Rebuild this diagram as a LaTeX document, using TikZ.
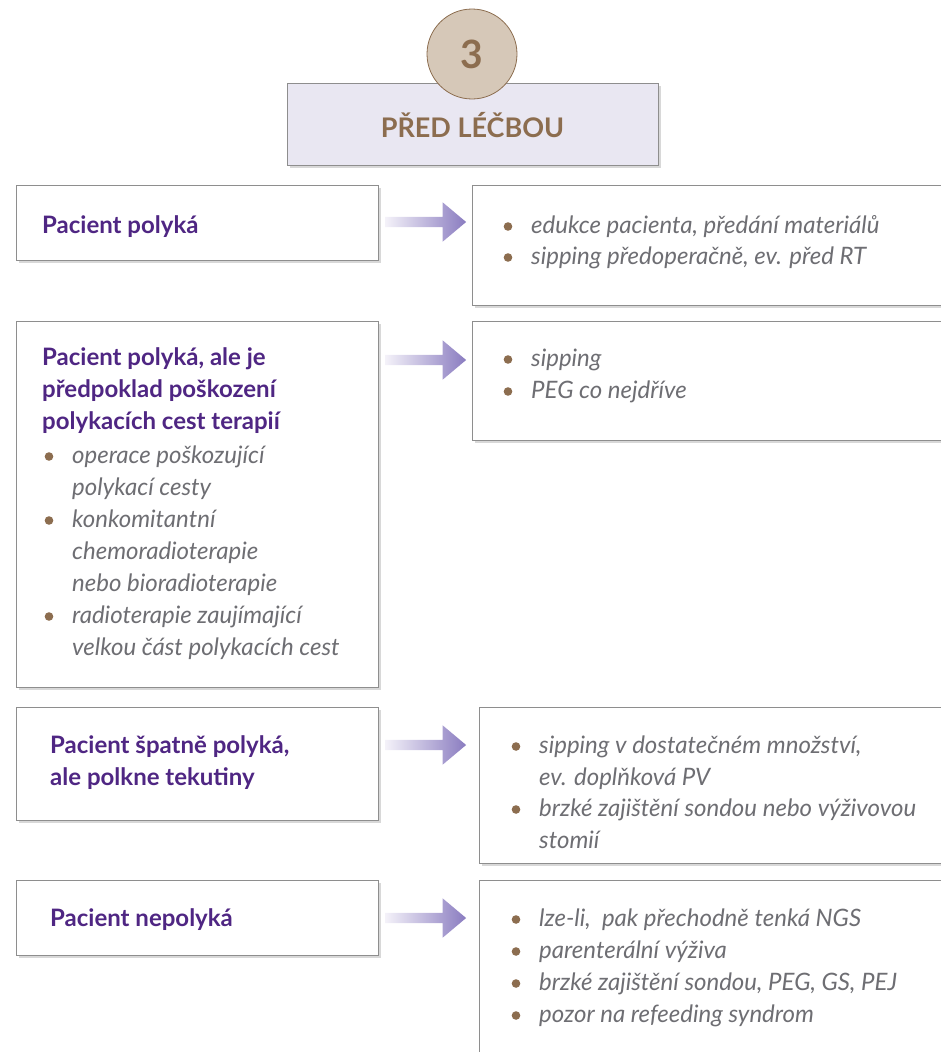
\documentclass[tikz,border=0pt]{standalone}
\usepackage{fontspec}
\setmainfont{Lato}
\usetikzlibrary{shapes.arrows, shadows}
\definecolor{plum}{HTML}{4F2683}
\definecolor{txgray}{HTML}{6E6E73}
\definecolor{bronze}{HTML}{8C6D4F}
\definecolor{sand}{HTML}{D6C8B8}
\definecolor{lilac}{HTML}{E9E7F2}
\definecolor{frame}{HTML}{8E8E8E}
\definecolor{arrowpale}{HTML}{F4F2F9}
\definecolor{arrowviolet}{HTML}{8A7CC0}

\begin{document}
\begin{tikzpicture}[
  x=1pt, y=-1pt,
  box/.style={rectangle, draw=frame, fill=white, line width=0.8pt, anchor=north west,
    inner sep=0pt, drop shadow={shadow xshift=3pt, shadow yshift=-3pt, opacity=0.22, fill=black!70}},
  head/.style={plum, font=\fontsize{24}{28}\selectfont\bfseries, anchor=base west, inner sep=0pt},
  item/.style={txgray, font=\fontsize{24}{28}\selectfont\itshape, anchor=base west, inner sep=0pt},
  flow/.style={single arrow, draw=none, minimum height=81pt, minimum width=39pt, inner sep=5pt,
    single arrow head extend=14.5pt, single arrow tip angle=80,
    left color=arrowpale, right color=arrowviolet},
]

% ----------------------------------------------------------
% Page frame
% ----------------------------------------------------------
\useasboundingbox (0,0) rectangle (941,1052);
\clip (0,0) rectangle (941,1052);

% ----------------------------------------------------------
% Title
% ----------------------------------------------------------
\node[box, fill=lilac, minimum width=371pt, minimum height=82pt] (title) at (287,83) {};
\node[bronze, font=\fontsize{27}{30}\selectfont\bfseries, anchor=base, inner sep=0pt]
  (titletext) at (472.5,137) {PŘED LÉČBOU};
\node[circle, draw=bronze, fill=sand, line width=0.8pt, minimum size=90pt, inner sep=0pt,
  text=bronze, font=\fontsize{39}{41}\selectfont\bfseries] (num) at (472,54) {3};

% ----------------------------------------------------------
% Left column: patient state
% ----------------------------------------------------------
\node[box, minimum width=362pt, minimum height=75pt]  (p1) at (16,185) {};
\node[box, minimum width=362pt, minimum height=366pt] (p2) at (16,321) {};
\node[box, minimum width=362pt, minimum height=113pt] (p3) at (16,707) {};
\node[box, minimum width=362pt, minimum height=75pt]  (p4) at (16,880) {};

% ----------------------------------------------------------
% Right column: measures
% ----------------------------------------------------------
\node[box, minimum width=500pt, minimum height=120pt] (r1) at (472,185) {};
\node[box, minimum width=500pt, minimum height=119pt] (r2) at (472,321) {};
\node[box, minimum width=500pt, minimum height=156pt] (r3) at (479,707) {};
\node[box, minimum width=500pt, minimum height=200pt] (r4) at (479,880) {};

% ----------------------------------------------------------
% Arrows
% ----------------------------------------------------------
\node[flow] (a1) at (422.5,222) {};
\node[flow] (a2) at (422.5,360) {};
\node[flow] (a3) at (422.5,745) {};
\node[flow] (a4) at (422.5,918) {};

% ----------------------------------------------------------
% Headings
% ----------------------------------------------------------
\node[head] (h1) at (42,233) {Pacient polyká};
\foreach \y/\t [count=\i] in {365/{Pacient polyká, ale je},
                              397/{předpoklad poškození},
                              429/{polykacích cest terapií}}{
  \node[head] (h2-\i) at (42,\y) {\t};
}
\foreach \y/\t [count=\i] in {753/{Pacient špatně polyká,},
                              785/{ale polkne tekutiny}}{
  \node[head] (h3-\i) at (50,\y) {\t};
}
\node[head] (h4) at (50,926) {Pacient nepolyká};

% ----------------------------------------------------------
% Bullet items (x of bullet / x of text / baseline / bullet? / text)
% ----------------------------------------------------------
\foreach \bx/\tx/\y/\b/\t [count=\i] in {%
  49/72/463/1/{operace poškozující},%
  49/72/495/0/{polykací cesty},%
  49/72/527/1/{konkomitantní},%
  49/72/559/0/{chemoradioterapie},%
  49/72/591/0/{nebo bioradioterapie},%
  49/72/623/1/{radioterapie zaujímající},%
  49/72/655/0/{velkou část polykacích cest},%
  508/531/233/1/{edukce pacienta, předání materiálů},%
  508/531/264/1/{sipping předoperačně, ev. před RT},%
  508/531/366/1/{sipping},%
  508/531/398/1/{PEG co nejdříve},%
  516/539/753/1/{sipping v dostatečném množství,},%
  516/539/785/0/{ev. doplňková PV},%
  516/539/816/1/{brzké zajištění sondou nebo výživovou},%
  516/539/848/0/{stomií},%
  516/539/926/1/{lze-li,\ \ pak přechodně tenká NGS},%
  516/539/958/1/{parenterální výživa},%
  516/539/990/1/{brzké zajištění sondou, PEG, GS, PEJ},%
  516/539/1022/1/{pozor na refeeding syndrom}%
}{
  \ifnum\b=1
    \fill[bronze] (\bx,\y-6.5) circle (4.3pt);
  \fi
  \node[item] (it-\i) at (\tx,\y) {\t};
}

\end{tikzpicture}
\end{document}
